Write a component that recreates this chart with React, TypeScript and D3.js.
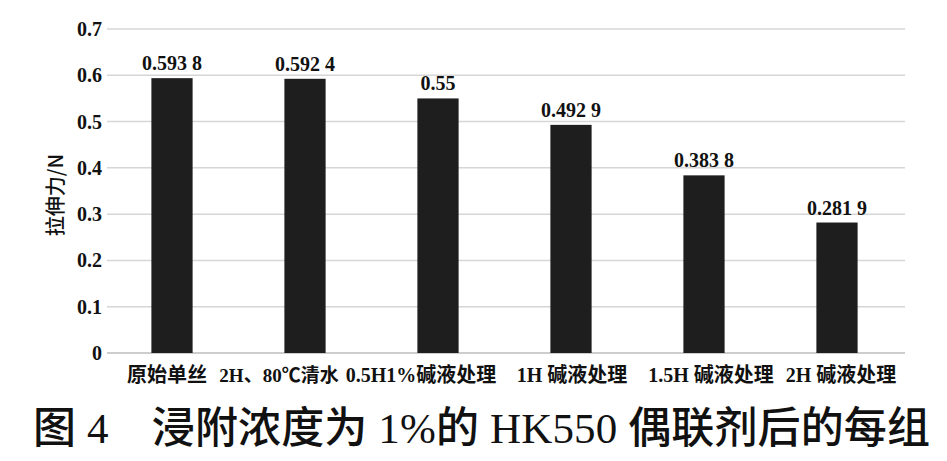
import React from "react";
import * as d3 from "d3";

const categories = ["原始单丝", "2H、80℃清水", "0.5H1%碱液处理", "1H 碱液处理", "1.5H 碱液处理", "2H 碱液处理"];
const values = [0.5938, 0.5924, 0.55, 0.4929, 0.3838, 0.2819];
const valueLabels = ["0.593 8", "0.592 4", "0.55", "0.492 9", "0.383 8", "0.281 9"];
const yTicks = [0, 0.1, 0.2, 0.3, 0.4, 0.5, 0.6, 0.7];
const yTitle = "拉伸力/N";
const caption = "图 4　浸附浓度为 1%的 HK550 偶联剂后的每组";

// layout-only nudges for the category labels (px)
const labelNudge = [-5, -26, -17, 1, 7, 4];

const W = 947;
const H = 461;
const serif = "'Liberation Serif', 'Times New Roman', 'Noto Sans CJK SC', serif";

export default function App() {
  const x = d3
    .scaleBand<string>()
    .domain(categories)
    .range([105.5, 903.5])
    .paddingInner(0.69)
    .paddingOuter(0.345);
  const y = d3.scaleLinear().domain([0, 0.7]).range([353, 29]);
  const gridLeft = 107;
  const gridRight = 905;

  return (
    <svg
      width={W}
      height={H}
      style={{ position: "absolute", left: 0, top: 0, background: "#fff" }}
    >
      <rect x={0} y={0} width={W} height={H} fill="#fff" />
      {yTicks.map((t) => (
        <g key={t}>
          <line
            x1={gridLeft}
            x2={gridRight}
            y1={y(t)}
            y2={y(t)}
            stroke={t === 0 ? "#bdbdbd" : "#d6d6d6"}
            strokeWidth={1.5}
          />
          <text
            x={102}
            y={y(t)}
            dy="0.35em"
            textAnchor="end"
            fontFamily={serif}
            fontWeight="bold"
            fontSize={20}
            fill="#111"
          >
            {t === 0 ? "0" : d3.format(".1f")(t)}
          </text>
        </g>
      ))}
      {categories.map((c, i) => (
        <g key={c}>
          <rect
            x={x(c)}
            y={y(values[i])}
            width={x.bandwidth()}
            height={y(0) - y(values[i])}
            fill="#1e1e1e"
          />
          <text
            x={(x(c) as number) + x.bandwidth() / 2}
            y={y(values[i]) - 8}
            textAnchor="middle"
            fontFamily={serif}
            fontWeight="bold"
            fontSize={20}
            fill="#111"
          >
            {valueLabels[i]}
          </text>
          <text
            x={(x(c) as number) + x.bandwidth() / 2 + labelNudge[i]}
            y={382}
            textAnchor="middle"
            fontFamily={serif}
            fontWeight="bold"
            fontSize={i === 1 ? 19 : 20}
            fill="#111"
          >
            {c}
          </text>
        </g>
      ))}
      <text
        transform={`translate(63, ${195}) rotate(-90)`}
        textAnchor="middle"
        fontFamily="'Noto Sans CJK SC', sans-serif"
        fontWeight={500}
        fontSize={20}
        fill="#111"
      >
        {yTitle}
      </text>
      <text
        x={33}
        y={443}
        textLength={897}
        lengthAdjust="spacing"
        fontFamily={serif}
        fontWeight={500}
        fontSize={43}
        fill="#111"
      >
        {caption}
      </text>
    </svg>
  );
}
